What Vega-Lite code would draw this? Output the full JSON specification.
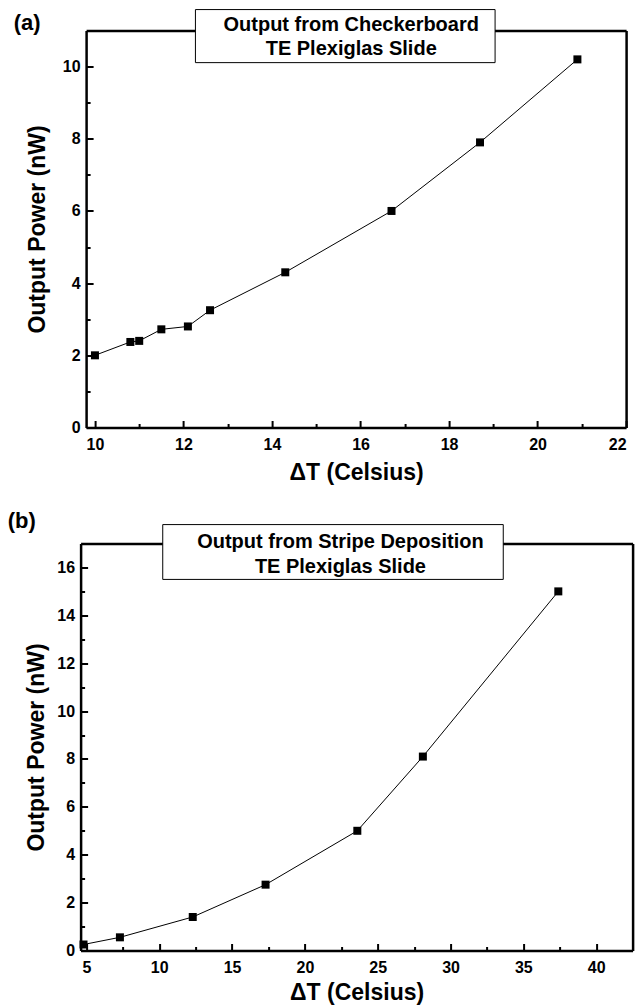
{
  "$schema": "https://vega.github.io/schema/vega-lite/v6.json",
  "padding": {"left": 7.6, "top": 8.5, "right": 5, "bottom": 0},
  "spacing": 25,
  "columns": 1,
  "center": true,
  "config": {
    "view": {"stroke": null},
    "font": "Liberation Sans",
    "axis": {
      "grid": false,
      "labelFont": "Liberation Sans",
      "labelFontWeight": "bold",
      "labelFontSize": 16,
      "labelColor": "black",
      "titleFont": "Liberation Sans",
      "titleFontWeight": "bold",
      "titleFontSize": 23,
      "titleColor": "black",
      "domainColor": "black",
      "domainWidth": 2.5,
      "tickColor": "black",
      "tickWidth": 2
    }
  },
  "datasets": {
    "a": [
      {"T": 10.0, "P": 2.0},
      {"T": 10.8, "P": 2.37},
      {"T": 11.0, "P": 2.4},
      {"T": 11.5, "P": 2.72},
      {"T": 12.1, "P": 2.8},
      {"T": 12.6, "P": 3.25},
      {"T": 14.3, "P": 4.3},
      {"T": 16.7, "P": 6.0},
      {"T": 18.7, "P": 7.9},
      {"T": 20.9, "P": 10.2}
    ],
    "b": [
      {"T": 4.8, "P": 0.25},
      {"T": 7.3, "P": 0.55},
      {"T": 12.3, "P": 1.4},
      {"T": 17.3, "P": 2.75},
      {"T": 23.6, "P": 5.0},
      {"T": 28.1, "P": 8.1},
      {"T": 37.4, "P": 15.0}
    ]
  },
  "concat": [
    {
      "width": 540,
      "height": 397,
      "resolve": {"axis": {"x": "independent", "y": "independent"}},
      "layer": [
        {
          "data": {"name": "a"},
          "mark": {"type": "line", "color": "black", "strokeWidth": 1},
          "encoding": {
            "x": {"field": "T", "type": "quantitative",
              "scale": {"domain": [9.8, 22], "nice": false, "zero": false},
              "axis": {"orient": "bottom", "values": [10, 12, 14, 16, 18, 20, 22], "title": "ΔT (Celsius)", "tickSize": -7, "labelPadding": 16, "titlePadding": 9}},
            "y": {"field": "P", "type": "quantitative",
              "scale": {"domain": [0, 11], "nice": false},
              "axis": {"orient": "left", "values": [0, 2, 4, 6, 8, 10], "title": "Output Power (nW)", "tickSize": -7, "labelPadding": 13, "titlePadding": 13}}
          }
        },
        {
          "data": {"name": "a"},
          "mark": {"type": "square", "color": "black", "size": 64, "opacity": 1},
          "encoding": {
            "x": {"field": "T", "type": "quantitative", "axis": null},
            "y": {"field": "P", "type": "quantitative", "axis": null}
          }
        },
        {
          "data": {"name": "a"},
          "mark": {"type": "point", "opacity": 0},
          "encoding": {
            "x": {"field": "T", "type": "quantitative",
              "axis": {"orient": "bottom", "values": [11, 13, 15, 17, 19, 21], "labels": false, "domain": false, "tickSize": -4, "title": null}},
            "y": {"field": "P", "type": "quantitative",
              "axis": {"orient": "left", "values": [1, 3, 5, 7, 9], "labels": false, "domain": false, "tickSize": -4, "title": null}}
          }
        },
        {
          "data": {"name": "a"},
          "mark": {"type": "point", "opacity": 0},
          "encoding": {
            "x": {"field": "T", "type": "quantitative",
              "axis": {"orient": "top", "labels": false, "ticks": false, "title": null}},
            "y": {"field": "P", "type": "quantitative",
              "axis": {"orient": "right", "labels": false, "ticks": false, "title": null}}
          }
        },
        {
          "data": {"values": [{}]},
          "mark": {"type": "rect", "fill": "white", "stroke": "black", "strokeWidth": 1},
          "encoding": {
            "x": {"datum": 12.27, "type": "quantitative", "axis": null},
            "x2": {"datum": 19.04},
            "y": {"datum": 10.11, "type": "quantitative", "axis": null},
            "y2": {"datum": 11.58}
          }
        },
        {
          "data": {"values": [{}]},
          "mark": {"type": "text", "font": "Liberation Sans", "fontWeight": "bold", "fontSize": 20, "align": "center", "baseline": "middle", "lineHeight": 24, "color": "black"},
          "encoding": {
            "x": {"datum": 15.79, "type": "quantitative", "axis": null},
            "y": {"datum": 11.14, "type": "quantitative", "axis": null},
            "text": {"value": ["Output from Checkerboard", "TE Plexiglas Slide"]}
          }
        },
        {
          "data": {"values": [{}]},
          "mark": {"type": "text", "font": "Liberation Sans", "fontWeight": "bold", "fontSize": 22, "align": "center", "baseline": "middle", "color": "black"},
          "encoding": {
            "x": {"datum": 8.47, "type": "quantitative", "axis": null},
            "y": {"datum": 11.22, "type": "quantitative", "axis": null},
            "text": {"value": "(a)"}
          }
        }
      ]
    },
    {
      "width": 552,
      "height": 407,
      "resolve": {"axis": {"x": "independent", "y": "independent"}},
      "layer": [
        {
          "data": {"name": "b"},
          "mark": {"type": "line", "color": "black", "strokeWidth": 1},
          "encoding": {
            "x": {"field": "T", "type": "quantitative",
              "scale": {"domain": [4.6, 42.5], "nice": false, "zero": false},
              "axis": {"orient": "bottom", "values": [5, 10, 15, 20, 25, 30, 35, 40], "title": "ΔT (Celsius)", "tickSize": -7, "labelPadding": 16, "titlePadding": 6}},
            "y": {"field": "P", "type": "quantitative",
              "scale": {"domain": [0, 17], "nice": false},
              "axis": {"orient": "left", "values": [0, 2, 4, 6, 8, 10, 12, 14, 16], "title": "Output Power (nW)", "tickSize": -7, "labelPadding": 13, "titlePadding": 8}}
          }
        },
        {
          "data": {"name": "b"},
          "mark": {"type": "square", "color": "black", "size": 64, "opacity": 1},
          "encoding": {
            "x": {"field": "T", "type": "quantitative", "axis": null},
            "y": {"field": "P", "type": "quantitative", "axis": null}
          }
        },
        {
          "data": {"name": "b"},
          "mark": {"type": "point", "opacity": 0},
          "encoding": {
            "x": {"field": "T", "type": "quantitative",
              "axis": {"orient": "bottom", "values": [7.5, 12.5, 17.5, 22.5, 27.5, 32.5, 37.5], "labels": false, "domain": false, "tickSize": -4, "title": null}},
            "y": {"field": "P", "type": "quantitative",
              "axis": {"orient": "left", "values": [1, 3, 5, 7, 9, 11, 13, 15], "labels": false, "domain": false, "tickSize": -4, "title": null}}
          }
        },
        {
          "data": {"name": "b"},
          "mark": {"type": "point", "opacity": 0},
          "encoding": {
            "x": {"field": "T", "type": "quantitative",
              "axis": {"orient": "top", "labels": false, "ticks": false, "title": null}},
            "y": {"field": "P", "type": "quantitative",
              "axis": {"orient": "right", "labels": false, "ticks": false, "title": null}}
          }
        },
        {
          "data": {"values": [{}]},
          "mark": {"type": "rect", "fill": "white", "stroke": "black", "strokeWidth": 1},
          "encoding": {
            "x": {"datum": 10.24, "type": "quantitative", "axis": null},
            "x2": {"datum": 33.62},
            "y": {"datum": 15.5, "type": "quantitative", "axis": null},
            "y2": {"datum": 17.79}
          }
        },
        {
          "data": {"values": [{}]},
          "mark": {"type": "text", "font": "Liberation Sans", "fontWeight": "bold", "fontSize": 20, "align": "center", "baseline": "middle", "lineHeight": 25, "color": "black"},
          "encoding": {
            "x": {"datum": 22.44, "type": "quantitative", "axis": null},
            "y": {"datum": 17.08, "type": "quantitative", "axis": null},
            "text": {"value": ["Output from Stripe Deposition", "TE Plexiglas Slide"]}
          }
        },
        {
          "data": {"values": [{}]},
          "mark": {"type": "text", "font": "Liberation Sans", "fontWeight": "bold", "fontSize": 22, "align": "center", "baseline": "middle", "color": "black"},
          "encoding": {
            "x": {"datum": 0.555, "type": "quantitative", "axis": null},
            "y": {"datum": 17.92, "type": "quantitative", "axis": null},
            "text": {"value": "(b)"}
          }
        }
      ]
    }
  ]
}
